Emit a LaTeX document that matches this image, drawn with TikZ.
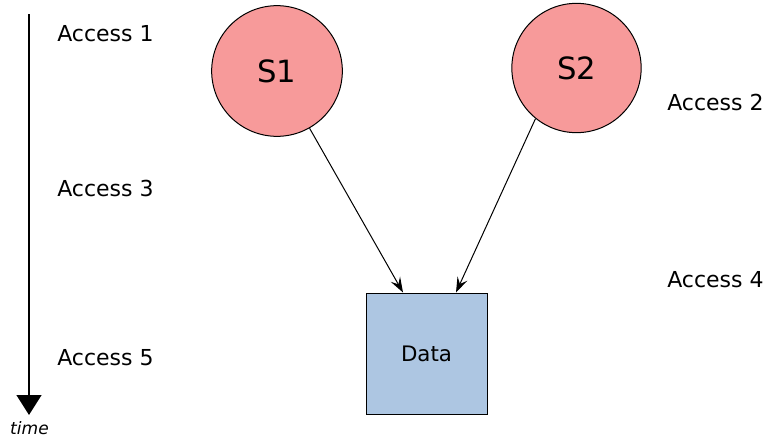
\documentclass[tikz,border=0pt]{standalone}
\usepackage{fontspec}
\setmainfont{DejaVu Sans}
\usetikzlibrary{arrows.meta,calc}
\definecolor{srvfill}{HTML}{F79A9A}
\definecolor{datafill}{HTML}{ADC6E2}
\tikzset{
  server/.style={circle, draw=black, line width=0.75pt, fill=srvfill,
    minimum size=98pt, inner sep=0pt, font=\fontsize{23}{27}\selectfont},
  store/.style={rectangle, draw=black, line width=0.75pt, fill=datafill,
    minimum width=90.75pt, minimum height=90.75pt, inner sep=0pt,
    font=\fontsize{16}{19}\selectfont},
  access/.style={anchor=base west, inner sep=0pt, font=\fontsize{16.5}{20}\selectfont},
  req/.style={line width=0.75pt, -{Stealth[length=11.5pt, width=8pt, inset=4.5pt]}},
  timeline/.style={line width=1.9pt, -{Triangle[length=15pt, width=18.5pt]}}
}
\begin{document}
\begin{tikzpicture}[x=0.75pt, y=-0.75pt]
  \useasboundingbox (0,0) rectangle (766,439);

  % time axis
  \coordinate (ttop) at (29,14);
  \coordinate (tbot) at (29,415);
  \draw[timeline] (ttop) -- (tbot);
  \node[font=\itshape\fontsize{12.8}{15}\selectfont, inner sep=0pt] (tlabel) at (29.5,428) {time};

  % servers and data
  \node[server] (s1) at (277,71) {S1};
  \node[server, minimum size=97pt] (s2) at (576.5,68) {S2};
  \node[store] (data) at (426.5,353.5) {Data};

  % accesses
  \coordinate (in1) at ($(data.north)+(-23.5,0)$);
  \coordinate (in2) at ($(data.north)+(29.5,0)$);
  \draw[req] (s1) -- (in1);
  \draw[req] (s2.231) -- (in2);

  % access labels
  \node[access] (a1) at (57,41) {Access 1};
  \node[access] (a2) at (667,110) {Access 2};
  \node[access] (a3) at (57,196) {Access 3};
  \node[access] (a4) at (667,287) {Access 4};
  \node[access] (a5) at (57,365) {Access 5};
\end{tikzpicture}
\end{document}
